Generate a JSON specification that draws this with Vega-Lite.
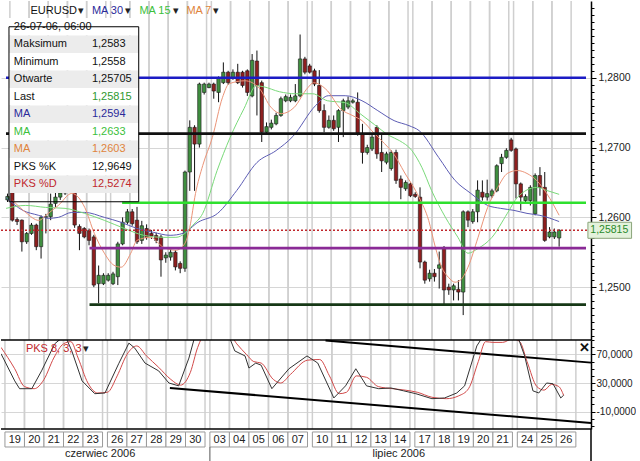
{
"$schema": "https://vega.github.io/schema/vega-lite/v6.json",
"padding": 0,
"spacing": 0,
"bounds": "flush",
"config": {"view": {"stroke": null}, "font": "Liberation Sans", "concat": {"spacing": 0},
  "axis": {"labelFont": "Liberation Sans", "labelFontSize": 10.5, "labelColor": "#222", "domainColor": "#000", "tickColor": "#000", "title": null}},
"datasets": {
"candles": [
{"i":0,"o":1.2625,"h":1.2634,"l":1.2622,"c":1.2630},
{"i":1,"o":1.2640,"h":1.2645,"l":1.2594,"c":1.2596},
{"i":2,"o":1.2597,"h":1.2600,"l":1.2589,"c":1.2594},
{"i":3,"o":1.2596,"h":1.2597,"l":1.2551,"c":1.2565},
{"i":4,"o":1.2565,"h":1.2579,"l":1.2562,"c":1.2577},
{"i":5,"o":1.2577,"h":1.2592,"l":1.2575,"c":1.2589},
{"i":6,"o":1.2589,"h":1.2591,"l":1.2553,"c":1.2558},
{"i":7,"o":1.2558,"h":1.2603,"l":1.2541,"c":1.2600},
{"i":8,"o":1.2600,"h":1.2605,"l":1.2577,"c":1.2601},
{"i":9,"o":1.2601,"h":1.2634,"l":1.2596,"c":1.2619},
{"i":10,"o":1.2620,"h":1.2636,"l":1.2615,"c":1.2629},
{"i":11,"o":1.2629,"h":1.2640,"l":1.2625,"c":1.2635},
{"i":12,"o":1.2635,"h":1.2650,"l":1.2632,"c":1.2645},
{"i":13,"o":1.2645,"h":1.2655,"l":1.2636,"c":1.2640},
{"i":14,"o":1.2642,"h":1.2648,"l":1.2585,"c":1.2589},
{"i":15,"o":1.2587,"h":1.2590,"l":1.2553,"c":1.2577},
{"i":16,"o":1.2584,"h":1.2586,"l":1.2570,"c":1.2572},
{"i":17,"o":1.2581,"h":1.2584,"l":1.2560,"c":1.2567},
{"i":18,"o":1.2572,"h":1.2575,"l":1.2500,"c":1.2503},
{"i":19,"o":1.2505,"h":1.2531,"l":1.2477,"c":1.2517},
{"i":20,"o":1.2505,"h":1.2520,"l":1.2503,"c":1.2517},
{"i":21,"o":1.2510,"h":1.2520,"l":1.2508,"c":1.2517},
{"i":22,"o":1.2505,"h":1.2522,"l":1.2503,"c":1.2519},
{"i":23,"o":1.2515,"h":1.2565,"l":1.2503,"c":1.2562},
{"i":24,"o":1.2562,"h":1.2600,"l":1.2560,"c":1.2593},
{"i":25,"o":1.2593,"h":1.2612,"l":1.2590,"c":1.2608},
{"i":26,"o":1.2608,"h":1.2612,"l":1.2588,"c":1.2591},
{"i":27,"o":1.2596,"h":1.2615,"l":1.2562,"c":1.2565},
{"i":28,"o":1.2567,"h":1.2595,"l":1.2562,"c":1.2588},
{"i":29,"o":1.2584,"h":1.2590,"l":1.2568,"c":1.2571},
{"i":30,"o":1.2577,"h":1.2582,"l":1.2569,"c":1.2573},
{"i":31,"o":1.2574,"h":1.2578,"l":1.2563,"c":1.2567},
{"i":32,"o":1.2572,"h":1.2575,"l":1.2515,"c":1.2539},
{"i":33,"o":1.2542,"h":1.2550,"l":1.2535,"c":1.2546},
{"i":34,"o":1.2543,"h":1.2555,"l":1.2538,"c":1.2550},
{"i":35,"o":1.2550,"h":1.2553,"l":1.2524,"c":1.2529},
{"i":36,"o":1.2534,"h":1.2537,"l":1.2520,"c":1.2527},
{"i":37,"o":1.2527,"h":1.2667,"l":1.2522,"c":1.2665},
{"i":38,"o":1.2665,"h":1.2739,"l":1.2638,"c":1.2729},
{"i":39,"o":1.2729,"h":1.2732,"l":1.2638,"c":1.2705},
{"i":40,"o":1.2705,"h":1.2793,"l":1.2700,"c":1.2791},
{"i":41,"o":1.2779,"h":1.2793,"l":1.2776,"c":1.2791},
{"i":42,"o":1.2786,"h":1.2793,"l":1.2785,"c":1.2791},
{"i":43,"o":1.2791,"h":1.2793,"l":1.2770,"c":1.2781},
{"i":44,"o":1.2779,"h":1.2802,"l":1.2765,"c":1.2800},
{"i":45,"o":1.2793,"h":1.2822,"l":1.2791,"c":1.2808},
{"i":46,"o":1.2808,"h":1.2810,"l":1.2790,"c":1.2793},
{"i":47,"o":1.2800,"h":1.2812,"l":1.2797,"c":1.2808},
{"i":48,"o":1.2808,"h":1.2820,"l":1.2791,"c":1.2793},
{"i":49,"o":1.2808,"h":1.2810,"l":1.2786,"c":1.2789},
{"i":50,"o":1.2810,"h":1.2812,"l":1.2774,"c":1.2779},
{"i":51,"o":1.2774,"h":1.2834,"l":1.2772,"c":1.2825},
{"i":52,"o":1.2824,"h":1.2839,"l":1.2746,"c":1.2789},
{"i":53,"o":1.2793,"h":1.2796,"l":1.2708,"c":1.2722},
{"i":54,"o":1.2722,"h":1.2736,"l":1.2718,"c":1.2730},
{"i":55,"o":1.2729,"h":1.2740,"l":1.2726,"c":1.2735},
{"i":56,"o":1.2734,"h":1.2750,"l":1.2732,"c":1.2746},
{"i":57,"o":1.2746,"h":1.2773,"l":1.2744,"c":1.2770},
{"i":58,"o":1.2767,"h":1.2776,"l":1.2765,"c":1.2773},
{"i":59,"o":1.2767,"h":1.2776,"l":1.2765,"c":1.2772},
{"i":60,"o":1.2767,"h":1.2791,"l":1.2765,"c":1.2774},
{"i":61,"o":1.2774,"h":1.2862,"l":1.2772,"c":1.2827},
{"i":62,"o":1.2827,"h":1.2830,"l":1.2805,"c":1.2808},
{"i":63,"o":1.2817,"h":1.2820,"l":1.2806,"c":1.2808},
{"i":64,"o":1.2810,"h":1.2813,"l":1.2788,"c":1.2791},
{"i":65,"o":1.2789,"h":1.2811,"l":1.2750,"c":1.2753},
{"i":66,"o":1.2753,"h":1.2762,"l":1.2722,"c":1.2729},
{"i":67,"o":1.2729,"h":1.2746,"l":1.2727,"c":1.2739},
{"i":68,"o":1.2739,"h":1.2746,"l":1.2724,"c":1.2727},
{"i":69,"o":1.2729,"h":1.2755,"l":1.2708,"c":1.2753},
{"i":70,"o":1.2753,"h":1.2770,"l":1.2715,"c":1.2767},
{"i":71,"o":1.2758,"h":1.2773,"l":1.2755,"c":1.2767},
{"i":72,"o":1.2765,"h":1.2770,"l":1.2763,"c":1.2767},
{"i":73,"o":1.2765,"h":1.2779,"l":1.2717,"c":1.2720},
{"i":74,"o":1.2720,"h":1.2734,"l":1.2677,"c":1.2693},
{"i":75,"o":1.2693,"h":1.2704,"l":1.2690,"c":1.2700},
{"i":76,"o":1.2698,"h":1.2718,"l":1.2695,"c":1.2715},
{"i":77,"o":1.2729,"h":1.2732,"l":1.2684,"c":1.2691},
{"i":78,"o":1.2693,"h":1.2720,"l":1.2665,"c":1.2681},
{"i":79,"o":1.2679,"h":1.2694,"l":1.2676,"c":1.2691},
{"i":80,"o":1.2670,"h":1.2696,"l":1.2667,"c":1.2693},
{"i":81,"o":1.2693,"h":1.2697,"l":1.2648,"c":1.2653},
{"i":82,"o":1.2655,"h":1.2660,"l":1.2626,"c":1.2643},
{"i":83,"o":1.2641,"h":1.2653,"l":1.2638,"c":1.2650},
{"i":84,"o":1.2648,"h":1.2650,"l":1.2629,"c":1.2631},
{"i":85,"o":1.2633,"h":1.2636,"l":1.2628,"c":1.2630},
{"i":86,"o":1.2629,"h":1.2643,"l":1.2527,"c":1.2536},
{"i":87,"o":1.2536,"h":1.2538,"l":1.2505,"c":1.2510},
{"i":88,"o":1.2512,"h":1.2525,"l":1.2508,"c":1.2520},
{"i":89,"o":1.2520,"h":1.2526,"l":1.2508,"c":1.2515},
{"i":90,"o":1.2527,"h":1.2551,"l":1.2498,"c":1.2532},
{"i":91,"o":1.2556,"h":1.2559,"l":1.2475,"c":1.2496},
{"i":92,"o":1.2500,"h":1.2505,"l":1.2489,"c":1.2496},
{"i":93,"o":1.2496,"h":1.2505,"l":1.2481,"c":1.2502},
{"i":94,"o":1.2497,"h":1.2510,"l":1.2481,"c":1.2493},
{"i":95,"o":1.2493,"h":1.2610,"l":1.2460,"c":1.2608},
{"i":96,"o":1.2608,"h":1.2610,"l":1.2586,"c":1.2596},
{"i":97,"o":1.2594,"h":1.2612,"l":1.2591,"c":1.2608},
{"i":98,"o":1.2608,"h":1.2653,"l":1.2593,"c":1.2639},
{"i":99,"o":1.2636,"h":1.2653,"l":1.2624,"c":1.2629},
{"i":100,"o":1.2629,"h":1.2654,"l":1.2624,"c":1.2634},
{"i":101,"o":1.2631,"h":1.2641,"l":1.2628,"c":1.2638},
{"i":102,"o":1.2638,"h":1.2676,"l":1.2636,"c":1.2674},
{"i":103,"o":1.2677,"h":1.2691,"l":1.2665,"c":1.2686},
{"i":104,"o":1.2686,"h":1.2699,"l":1.2684,"c":1.2696},
{"i":105,"o":1.2711,"h":1.2714,"l":1.2694,"c":1.2696},
{"i":106,"o":1.2698,"h":1.2700,"l":1.2627,"c":1.2648},
{"i":107,"o":1.2648,"h":1.2650,"l":1.2610,"c":1.2629},
{"i":108,"o":1.2624,"h":1.2633,"l":1.2620,"c":1.2630},
{"i":109,"o":1.2624,"h":1.2646,"l":1.2617,"c":1.2643},
{"i":110,"o":1.2605,"h":1.2663,"l":1.2603,"c":1.2660},
{"i":111,"o":1.2660,"h":1.2672,"l":1.2631,"c":1.2643},
{"i":112,"o":1.2643,"h":1.2665,"l":1.2565,"c":1.2567},
{"i":113,"o":1.2572,"h":1.2586,"l":1.2570,"c":1.2579},
{"i":114,"o":1.2572,"h":1.2584,"l":1.2569,"c":1.2579},
{"i":115,"o":1.25705,"h":1.2583,"l":1.2558,"c":1.25815}
],
"ma30": [
{"i":-0.3,"v":1.26286},{"i":3.2,"v":1.2610},{"i":6.5,"v":1.26029},{"i":8.5,"v":1.25986},{"i":10.6,"v":1.2600},{"i":13.4,"v":1.26071},{"i":16.1,"v":1.26071},{"i":20.2,"v":1.2600},{"i":23.7,"v":1.25929},{"i":26.9,"v":1.25843},{"i":30.4,"v":1.25786},{"i":33.9,"v":1.25743},{"i":36.6,"v":1.25771},{"i":39.7,"v":1.25929},{"i":43.8,"v":1.26057},{"i":47.8,"v":1.26386},{"i":52.0,"v":1.26786},{"i":56.0,"v":1.26957},{"i":59.5,"v":1.2716},{"i":64.2,"v":1.2760},{"i":66.9,"v":1.27743},{"i":70.4,"v":1.27743},{"i":73.9,"v":1.27671},{"i":77.2,"v":1.27529},{"i":80.6,"v":1.27386},{"i":83.7,"v":1.27314},{"i":85.8,"v":1.27243},{"i":89.9,"v":1.26857},{"i":93.3,"v":1.26529},{"i":96.6,"v":1.26343},{"i":100.1,"v":1.26171},{"i":102.8,"v":1.26129},{"i":105.6,"v":1.2610},{"i":108.3,"v":1.26057},{"i":111.0,"v":1.26029},{"i":115,"v":1.2594}
],
"ma15": [
{"i":-0.3,"v":1.26129},{"i":3.8,"v":1.26171},{"i":7.9,"v":1.26143},{"i":12.0,"v":1.26129},{"i":16.1,"v":1.26057},{"i":20.2,"v":1.25957},{"i":24.3,"v":1.25843},{"i":28.4,"v":1.25743},{"i":32.5,"v":1.25714},{"i":35.1,"v":1.25714},{"i":37.0,"v":1.25771},{"i":38.6,"v":1.25886},{"i":40.7,"v":1.26057},{"i":43.7,"v":1.26671},{"i":46.4,"v":1.27143},{"i":49.3,"v":1.27557},{"i":51.9,"v":1.27886},{"i":53.4,"v":1.27871},{"i":56.7,"v":1.2780},{"i":60.1,"v":1.27771},{"i":63.6,"v":1.27771},{"i":66.7,"v":1.27671},{"i":70.4,"v":1.27643},{"i":73.5,"v":1.27486},{"i":76.5,"v":1.27329},{"i":79.6,"v":1.27171},{"i":81.7,"v":1.2710},{"i":84.3,"v":1.26957},{"i":86.4,"v":1.26714},{"i":88.4,"v":1.26386},{"i":91.3,"v":1.2600},{"i":93.9,"v":1.25714},{"i":96.0,"v":1.25486},{"i":98.0,"v":1.2555},{"i":101.0,"v":1.25714},{"i":104.2,"v":1.26057},{"i":106.3,"v":1.26286},{"i":110.3,"v":1.26429},{"i":112.4,"v":1.26386},{"i":115,"v":1.2633}
],
"ma7": [
{"i":1.1,"v":1.26243},{"i":3.8,"v":1.26071},{"i":6.5,"v":1.25957},{"i":8.5,"v":1.26057},{"i":10.6,"v":1.26171},{"i":13.4,"v":1.26343},{"i":16.1,"v":1.26143},{"i":18.1,"v":1.25771},{"i":20.2,"v":1.25486},{"i":22.2,"v":1.25314},{"i":23.7,"v":1.25286},{"i":25.7,"v":1.25486},{"i":27.0,"v":1.25671},{"i":29.8,"v":1.25714},{"i":32.5,"v":1.25571},{"i":35.1,"v":1.25529},{"i":37.0,"v":1.25629},{"i":38.0,"v":1.25857},{"i":39.2,"v":1.26343},{"i":40.7,"v":1.26743},{"i":42.7,"v":1.27143},{"i":44.8,"v":1.27714},{"i":46.2,"v":1.27914},{"i":49.5,"v":1.27957},{"i":52.4,"v":1.27857},{"i":55.0,"v":1.27571},{"i":57.1,"v":1.27486},{"i":59.7,"v":1.27571},{"i":62.6,"v":1.27857},{"i":63.8,"v":1.27929},{"i":66.7,"v":1.27814},{"i":69.4,"v":1.27557},{"i":72.0,"v":1.27457},{"i":73.9,"v":1.27386},{"i":76.5,"v":1.2720},{"i":78.6,"v":1.27057},{"i":80.6,"v":1.2690},{"i":82.7,"v":1.2665},{"i":85.8,"v":1.26286},{"i":87.8,"v":1.25957},{"i":89.2,"v":1.25571},{"i":90.5,"v":1.25286},{"i":91.9,"v":1.25143},{"i":93.3,"v":1.25071},{"i":94.4,"v":1.2510},{"i":96.0,"v":1.25286},{"i":98.1,"v":1.25714},{"i":100.1,"v":1.26143},{"i":102.2,"v":1.26429},{"i":104.2,"v":1.26629},{"i":106.3,"v":1.26671},{"i":108.3,"v":1.26629},{"i":110.3,"v":1.26529},{"i":112.4,"v":1.26343},{"i":115,"v":1.2603}
],
"pk": [
{"i":-0.3,"v":71},{"i":2.5,"v":33},{"i":3.5,"v":22},{"i":6.0,"v":22},{"i":8.0,"v":47},{"i":10.7,"v":85},{"i":12.8,"v":97},{"i":14.2,"v":75},{"i":16.3,"v":33},{"i":18.9,"v":15},{"i":21.0,"v":16},{"i":23.8,"v":57},{"i":25.9,"v":86},{"i":27.1,"v":79},{"i":29.2,"v":58},{"i":32.0,"v":47},{"i":34.1,"v":30},{"i":36.1,"v":26},{"i":38.2,"v":65},{"i":39.4,"v":95},{"i":41,"v":100},{"i":44,"v":100},{"i":46.4,"v":96},{"i":47.6,"v":75},{"i":49.7,"v":68},{"i":50.5,"v":51},{"i":51.9,"v":58},{"i":53,"v":55},{"i":55.2,"v":22},{"i":58.7,"v":50},{"i":62.4,"v":68},{"i":64.6,"v":58},{"i":67.9,"v":9},{"i":70.3,"v":26},{"i":72.4,"v":50},{"i":74.6,"v":26},{"i":77.1,"v":22},{"i":79.6,"v":23},{"i":82.2,"v":19},{"i":84.7,"v":15},{"i":88.0,"v":8},{"i":90.6,"v":9},{"i":93.1,"v":16},{"i":94.7,"v":26},{"i":97.2,"v":82},{"i":98.6,"v":97},{"i":101,"v":100},{"i":104,"v":100},{"i":105.6,"v":95},{"i":107.0,"v":68},{"i":108.7,"v":19},{"i":109.9,"v":16},{"i":111.5,"v":30},{"i":112.8,"v":29},{"i":114.4,"v":9},{"i":115,"v":12.96}
],
"pd": [
{"i":-0.3,"v":80},{"i":2.5,"v":50},{"i":4.5,"v":25},{"i":6.5,"v":22},{"i":8.5,"v":35},{"i":10.5,"v":65},{"i":12.5,"v":85},{"i":14,"v":88},{"i":15.5,"v":65},{"i":17.5,"v":30},{"i":19.5,"v":16},{"i":21.5,"v":17},{"i":23.5,"v":40},{"i":25.5,"v":70},{"i":27.5,"v":82},{"i":29.5,"v":68},{"i":32,"v":52},{"i":34.5,"v":35},{"i":36.5,"v":27},{"i":38.5,"v":45},{"i":40,"v":80},{"i":41.5,"v":98},{"i":46.5,"v":98},{"i":48,"v":85},{"i":50,"v":70},{"i":51.5,"v":60},{"i":53,"v":58},{"i":55.5,"v":35},{"i":57,"v":30},{"i":59,"v":42},{"i":62.5,"v":62},{"i":65,"v":63},{"i":67,"v":40},{"i":69,"v":15},{"i":70.5,"v":17},{"i":72.5,"v":40},{"i":74.6,"v":38},{"i":77,"v":25},{"i":80,"v":22},{"i":82.5,"v":20},{"i":85,"v":17},{"i":88,"v":10},{"i":91,"v":8},{"i":93.5,"v":12},{"i":95.5,"v":22},{"i":97.5,"v":60},{"i":99,"v":88},{"i":100.5,"v":87},{"i":102.5,"v":87},{"i":104.5,"v":92},{"i":106,"v":88},{"i":107.5,"v":60},{"i":109.5,"v":25},{"i":111,"v":20},{"i":112.5,"v":28},{"i":114,"v":25},{"i":115,"v":12.53}
],
"levels": [
{"name":"a","p":1.2800,"from":-0.31,"to":120.6},
{"name":"b","p":1.2720,"from":-0.31,"to":120.6},
{"name":"c","p":1.2621,"from":23.9,"to":120.6},
{"name":"d","p":1.2556,"from":17.1,"to":120.6},
{"name":"e","p":1.2475,"from":17.1,"to":120.6}
],
"chan": [
{"x1":34.3,"v1":23.0,"x2":120.6,"v2":-26.0},
{"x1":66.2,"v1":89.5,"x2":120.6,"v2":58.6}
],
"days": [
{"d":"19","start":0.5,"end":4.5},{"d":"20","start":4.5,"end":8.5},{"d":"21","start":8.5,"end":12.5},{"d":"22","start":12.5,"end":16.5},{"d":"23","start":16.5,"end":20.5},
{"d":"26","start":21.5,"end":25.5},{"d":"27","start":25.5,"end":29.5},{"d":"28","start":29.5,"end":33.5},{"d":"29","start":33.5,"end":37.5},{"d":"30","start":37.5,"end":41.5},
{"d":"03","start":42.5,"end":46.5},{"d":"04","start":46.5,"end":50.5},{"d":"05","start":50.5,"end":54.5},{"d":"06","start":54.5,"end":58.5},{"d":"07","start":58.5,"end":62.5},
{"d":"10","start":63.5,"end":67.5},{"d":"11","start":67.5,"end":71.5},{"d":"12","start":71.5,"end":75.5},{"d":"13","start":75.5,"end":79.5},{"d":"14","start":79.5,"end":83.5},
{"d":"17","start":84.5,"end":88.5},{"d":"18","start":88.5,"end":92.5},{"d":"19","start":92.5,"end":96.5},{"d":"20","start":96.5,"end":100.5},{"d":"21","start":100.5,"end":104.5},
{"d":"24","start":105.5,"end":109.5},{"d":"25","start":109.5,"end":113.5},{"d":"26","start":113.5,"end":117.5}
],
"info": [
{"row":0,"label":"26-07-06, 06:00","value":""},
{"row":1,"label":"Maksimum","value":"1,2583"},
{"row":2,"label":"Minimum","value":"1,2558"},
{"row":3,"label":"Otwarte","value":"1,25705"},
{"row":4,"label":"Last","value":"1,25815"},
{"row":5,"label":"MA","value":"1,2594"},
{"row":6,"label":"MA","value":"1,2633"},
{"row":7,"label":"MA","value":"1,2603"},
{"row":8,"label":"PKS %K","value":"12,9649"},
{"row":9,"label":"PKS %D","value":"12,5274"}
]
},
"vconcat": [
{
"width": 590, "height": 339,
"layer": [
{
"layer": [
{"data":{"name":"days"},"mark":{"type":"rule","color":"#cfcfcf","strokeWidth":1.5},"encoding":{"x":{"field":"start","type":"quantitative","scale":{"domain":[-0.31,120.6],"nice":false,"zero":false},"axis":null}}},
{"data":{"name":"days"},"mark":{"type":"rule","color":"#cfcfcf","strokeWidth":1.5},"encoding":{"x":{"field":"end","type":"quantitative","axis":null}}},
{"data":{"name":"candles"},"mark":{"type":"rule","color":"#111","strokeWidth":1},"encoding":{
 "x":{"field":"i","type":"quantitative","axis":null},
 "y":{"field":"l","type":"quantitative","scale":{"domain":[1.24243,1.291],"nice":false,"zero":false},
   "axis":{"orient":"right","values":[1.25,1.26,1.27,1.28],"labelExpr":"replace(format(datum.value,'.4f'),'.',',')","grid":true,"gridColor":"#d6d6d6","gridWidth":1,"tickSize":5,"labelPadding":2,"domainWidth":1.5}},
 "y2":{"field":"h"}}},
{"data":{"name":"candles"},"mark":{"type":"bar","width":3.4,"stroke":"#1a1a1a","strokeWidth":0.6},"encoding":{
 "x":{"field":"i","type":"quantitative","axis":null},
 "y":{"field":"o","type":"quantitative","axis":{"orient":"right","values":[1.243,1.244,1.245,1.246,1.247,1.248,1.249,1.251,1.252,1.253,1.254,1.255,1.256,1.257,1.258,1.259,1.261,1.262,1.263,1.264,1.265,1.266,1.267,1.268,1.269,1.271,1.272,1.273,1.274,1.275,1.276,1.277,1.278,1.279,1.281,1.282,1.283,1.284,1.285,1.286,1.287,1.288,1.289,1.29],"labels":false,"grid":false,"domain":false,"tickSize":3}},
 "y2":{"field":"c"},
 "fill":{"condition":{"test":"datum.c >= datum.o","value":"#3f8f3f"},"value":"#8e1f1f"}}},
{"data":{"name":"ma30"},"mark":{"type":"line","color":"#5c5cb4","strokeWidth":1,"interpolate":"monotone"},"encoding":{"x":{"field":"i","type":"quantitative","axis":null},"y":{"field":"v","type":"quantitative","axis":null}}},
{"data":{"name":"ma15"},"mark":{"type":"line","color":"#7ada7a","strokeWidth":1,"interpolate":"monotone"},"encoding":{"x":{"field":"i","type":"quantitative","axis":null},"y":{"field":"v","type":"quantitative","axis":null}}},
{"data":{"name":"ma7"},"mark":{"type":"line","color":"#eb9478","strokeWidth":1,"interpolate":"monotone"},"encoding":{"x":{"field":"i","type":"quantitative","axis":null},"y":{"field":"v","type":"quantitative","axis":null}}},
{"data":{"name":"levels"},"mark":{"type":"rule","strokeWidth":2.6},"encoding":{
 "x":{"field":"from","type":"quantitative","axis":null},"x2":{"field":"to"},
 "y":{"field":"p","type":"quantitative","axis":null},
 "color":{"field":"name","type":"nominal","scale":{"domain":["a","b","c","d","e"],"range":["#1c1cc4","#111111","#2ee02e","#8a2a96","#163816"]},"legend":null}}},
{"data":{"values":[{"p":1.25815}]},"mark":{"type":"rule","color":"#c0262b","strokeWidth":1.5,"strokeDash":[2,2]},"encoding":{"y":{"field":"p","type":"quantitative","axis":null}}},
{"data":{"values":[{}]},"mark":{"type":"text","text":"EURUSD","align":"left","baseline":"middle","fontSize":11,"color":"#111"},"encoding":{"x":{"datum":4.8,"axis":null},"y":{"datum":1.28957,"axis":null}}},
{"data":{"values":[{}]},"mark":{"type":"text","text":"▾","align":"center","baseline":"middle","fontSize":11,"color":"#222"},"encoding":{"x":{"datum":15.4,"axis":null},"y":{"datum":1.28957,"axis":null}}},
{"data":{"values":[{}]},"mark":{"type":"text","text":"MA 30","align":"left","baseline":"middle","fontSize":11,"color":"#2a2a9a"},"encoding":{"x":{"datum":17.6,"axis":null},"y":{"datum":1.28957,"axis":null}}},
{"data":{"values":[{}]},"mark":{"type":"text","text":"▾","align":"center","baseline":"middle","fontSize":11,"color":"#222"},"encoding":{"x":{"datum":25.2,"axis":null},"y":{"datum":1.28957,"axis":null}}},
{"data":{"values":[{}]},"mark":{"type":"text","text":"MA 15","align":"left","baseline":"middle","fontSize":11,"color":"#3cc03c"},"encoding":{"x":{"datum":27.5,"axis":null},"y":{"datum":1.28957,"axis":null}}},
{"data":{"values":[{}]},"mark":{"type":"text","text":"▾","align":"center","baseline":"middle","fontSize":11,"color":"#222"},"encoding":{"x":{"datum":35.2,"axis":null},"y":{"datum":1.28957,"axis":null}}},
{"data":{"values":[{}]},"mark":{"type":"text","text":"MA 7","align":"left","baseline":"middle","fontSize":11,"color":"#e0843c"},"encoding":{"x":{"datum":37.3,"axis":null},"y":{"datum":1.28957,"axis":null}}},
{"data":{"values":[{}]},"mark":{"type":"text","text":"▾","align":"center","baseline":"middle","fontSize":11,"color":"#222"},"encoding":{"x":{"datum":43.4,"axis":null},"y":{"datum":1.28957,"axis":null}}},
{"data":{"values":[{}]},"mark":{"type":"rect","fill":"#e4f2dc","stroke":"#8aa47a","strokeWidth":1},"encoding":{"x":{"datum":121.0,"axis":null},"x2":{"datum":130.1},"y":{"datum":1.2593,"axis":null},"y2":{"datum":1.2570}}},
{"data":{"values":[{}]},"mark":{"type":"text","text":"1,25815","align":"left","baseline":"middle","fontSize":10.5,"color":"#2a8a2a"},"encoding":{"x":{"datum":121.5,"axis":null},"y":{"datum":1.25815,"axis":null}}}
],
"resolve": {"axis": {"y": "independent"}}
},
{
"layer": [
{"data":{"name":"info"},"mark":{"type":"bar"},"encoding":{
 "y":{"field":"row","type":"ordinal","scale":{"domain":[0,1,2,3,4,5,6,7,8,9,10],"range":[17,209.5],"paddingInner":0,"paddingOuter":0},"axis":null},
 "x":{"datum":0.31,"axis":null},"x2":{"datum":27.36},
 "fill":{"condition":{"test":"datum.row % 2 === 1","value":"#ececec"},"value":"#ffffff"}}},
{"data":{"name":"info"},"mark":{"type":"text","align":"left","baseline":"middle","fontSize":11},"encoding":{
 "y":{"field":"row","type":"ordinal","axis":null},
 "x":{"datum":1.33,"axis":null},
 "text":{"field":"label"},
 "color":{"condition":[{"test":"datum.row === 5","value":"#2a2a9a"},{"test":"datum.row === 6","value":"#3cc03c"},{"test":"datum.row === 7","value":"#e0843c"},{"test":"datum.row === 9","value":"#c0282d"}],"value":"#111111"}}},
{"data":{"name":"info"},"mark":{"type":"text","align":"left","baseline":"middle","fontSize":11},"encoding":{
 "y":{"field":"row","type":"ordinal","axis":null},
 "x":{"datum":17.6,"axis":null},
 "text":{"field":"value"},
 "color":{"condition":[{"test":"datum.row === 4","value":"#2f9a2f"},{"test":"datum.row === 5","value":"#2a2a9a"},{"test":"datum.row === 6","value":"#3cc03c"},{"test":"datum.row === 7","value":"#e0843c"},{"test":"datum.row === 9","value":"#c0282d"}],"value":"#111111"}}},
{"data":{"values":[{}]},"mark":{"type":"rect","fill":null,"stroke":"#000","strokeWidth":1},"encoding":{
 "x":{"datum":0.31,"axis":null},"x2":{"datum":27.36},
 "y":{"datum":0,"type":"ordinal","axis":null},"y2":{"datum":10}}}
]
}
],
"resolve": {"scale": {"y": "independent"}}
},
{
"width": 590, "height": 89,
"layer": [
{"data":{"name":"days"},"mark":{"type":"rule","color":"#cfcfcf","strokeWidth":1.5},"encoding":{"x":{"field":"start","type":"quantitative","scale":{"domain":[-0.31,120.6],"nice":false,"zero":false},"axis":null}}},
{"data":{"name":"days"},"mark":{"type":"rule","color":"#cfcfcf","strokeWidth":1.5},"encoding":{"x":{"field":"end","type":"quantitative","axis":null}}},
{"data":{"name":"chan"},"mark":{"type":"rule","color":"#000","strokeWidth":2},"encoding":{
 "x":{"field":"x1","type":"quantitative","axis":null},"x2":{"field":"x2"},
 "y":{"field":"v1","type":"quantitative","scale":{"domain":[-34.56,90.35],"nice":false,"zero":false},"axis":null},"y2":{"field":"v2"}}},
{"data":{"name":"pd"},"mark":{"type":"line","color":"#d24a4a","strokeWidth":1,"clip":true,"interpolate":"monotone"},"encoding":{
 "x":{"field":"i","type":"quantitative","axis":null},
 "y":{"field":"v","type":"quantitative","axis":{"orient":"right","values":[-30,-20,-10,0,10,20,30,40,50,60,70,80,90],"labels":false,"grid":false,"domain":false,"tickSize":3}}}},
{"data":{"name":"pk"},"mark":{"type":"line","color":"#333","strokeWidth":1,"clip":true},"encoding":{
 "x":{"field":"i","type":"quantitative","axis":null},
 "y":{"field":"v","type":"quantitative","axis":{"orient":"right","values":[70,30,-10],"labelExpr":"replace(replace(format(datum.value,'.4f'),'.',','),'−','-')","labelFontSize":10,"grid":true,"gridColor":"#d6d6d6","tickSize":4,"labelPadding":1,"domainWidth":1.5}}}},
{"data":{"values":[{}]},"mark":{"type":"rule","color":"#000","strokeWidth":1.5},"encoding":{"y":{"datum":90.35,"axis":null}}},
{"data":{"values":[{}]},"mark":{"type":"rule","color":"#000","strokeWidth":1.5},"encoding":{"y":{"datum":-34.56,"axis":null}}},
{"data":{"values":[{}]},"mark":{"type":"text","text":"PKS 8, 3, 3","align":"left","baseline":"middle","fontSize":11,"color":"#c0282d"},"encoding":{"x":{"datum":4.8,"axis":null},"y":{"datum":77.7,"axis":null}}},
{"data":{"values":[{}]},"mark":{"type":"text","text":"▾","align":"center","baseline":"middle","fontSize":11,"color":"#222"},"encoding":{"x":{"datum":17.1,"axis":null},"y":{"datum":77.7,"axis":null}}},
{"data":{"values":[{}]},"mark":{"type":"text","text":"✕","align":"center","baseline":"middle","fontSize":13,"fontWeight":"bold","color":"#111"},"encoding":{"x":{"datum":119.2,"axis":null},"y":{"datum":79.1,"axis":null}}}
],
"resolve": {"axis": {"y": "independent"}}
},
{
"width": 590, "height": 33,
"layer": [
{"data":{"name":"days"},"mark":{"type":"rect","fill":"#ffffff","stroke":"#9a9a9a","strokeWidth":1},"encoding":{
 "x":{"field":"start","type":"quantitative","scale":{"domain":[-0.31,120.6],"nice":false,"zero":false},"axis":null},"x2":{"field":"end"},
 "y":{"datum":1.82,"scale":{"domain":[0,2],"nice":false,"zero":false},"axis":null},"y2":{"datum":0.91}}},
{"data":{"name":"days"},"mark":{"type":"text","fontSize":11,"dx":9.8,"align":"center","baseline":"middle","color":"#222"},"encoding":{
 "x":{"field":"start","type":"quantitative","axis":null},"y":{"datum":1.36,"axis":null},"text":{"field":"d"}}},
{"data":{"values":[{}]},"mark":{"type":"rule","color":"#555","strokeWidth":1},"encoding":{"x":{"datum":42.5,"axis":null},"y":{"datum":0.91,"axis":null},"y2":{"datum":0}}},
{"data":{"values":[{}]},"mark":{"type":"rule","color":"#000","strokeWidth":1.5},"encoding":{"x":{"datum":120.6,"axis":null}}},
{"data":{"values":[{}]},"mark":{"type":"text","text":"czerwiec 2006","align":"center","baseline":"middle","fontSize":11,"color":"#222"},"encoding":{"x":{"datum":20.0,"axis":null},"y":{"datum":0.48,"axis":null}}},
{"data":{"values":[{}]},"mark":{"type":"text","text":"lipiec 2006","align":"center","baseline":"middle","fontSize":11,"color":"#222"},"encoding":{"x":{"datum":81.2,"axis":null},"y":{"datum":0.48,"axis":null}}}
]
}
]
}
